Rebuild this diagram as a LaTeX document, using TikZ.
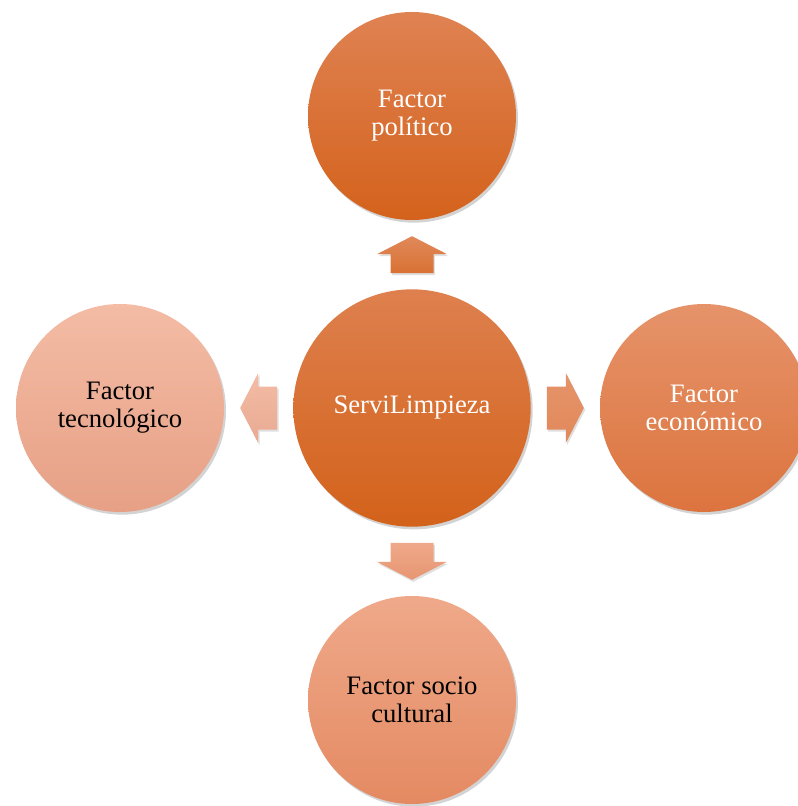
\documentclass[tikz,border=0pt]{standalone}
\usepackage{fontspec}
\setmainfont{Liberation Serif}
\usepackage{tikz}
\usetikzlibrary{calc,positioning,shadows}
\newdimen\cdim
\newdimen\hubdim
\newdimen\odim
\cdim=156pt
\hubdim=178pt
\odim=219pt
\definecolor{politicotop}{HTML}{DF8252}
\definecolor{politicobot}{HTML}{D4621C}
\definecolor{servitop}{HTML}{DE804E}
\definecolor{servibot}{HTML}{D3621A}
\definecolor{economicotop}{HTML}{E6936A}
\definecolor{economicobot}{HTML}{DC743E}
\definecolor{sociotop}{HTML}{EFA98A}
\definecolor{sociobot}{HTML}{E48A62}
\definecolor{tecnotop}{HTML}{F4BCA5}
\definecolor{tecnobot}{HTML}{E6A085}
\tikzstyle{circ}=[
  circle,
  inner sep=0pt,
  outer sep=0pt,
  align=center,
  font={\fontsize{20}{21}\selectfont},
  drop shadow={opacity=.35, shadow xshift=1.5pt, shadow yshift=-2pt},
]
\tikzstyle{factor}=[
  circ,
  minimum size=\cdim,
]
\tikzstyle{hub}=[
  circ,
  minimum size=\hubdim,
  text=white,
  top color=servitop,
  bottom color=servibot,
]
\tikzstyle{blockarrow}=[
  drop shadow={opacity=.25, shadow xshift=1pt, shadow yshift=-1.5pt},
]
\tikzset{
  node distance=\odim,
}
\begin{document}
\begin{tikzpicture}[x=.75pt,y=-.75pt]
  \useasboundingbox (0,0) rectangle (798,806);
  \node (servi) [hub] at (412,408) {ServiLimpieza};
  %%
  \node (politico) [factor, text=white, top color=politicotop,
    bottom color=politicobot, above of=servi] {Factor\\político};
  \node (economico) [factor, text=white, top color=economicotop,
    bottom color=economicobot, right of=servi] {Factor\\económico};
  \node (socio) [factor, top color=sociotop,
    bottom color=sociobot, below of=servi] {Factor socio\\cultural};
  \node (tecnologico) [factor, top color=tecnotop,
    bottom color=tecnobot, left of=servi] {Factor\\tecnológico};
  %%
  \coordinate (up) at ($(servi.north)!.5!(politico.south)$);
  \coordinate (right) at ($(servi.east)!.5!(economico.west)$);
  \coordinate (down) at ($(servi.south)!.5!(socio.north)$);
  \coordinate (left) at ($(servi.west)!.5!(tecnologico.east)$);
  %%
  \path [blockarrow, top color=politicotop!95!white, bottom color=politicobot!90!white]
    ($(up)+(-21.5,18.5)$) -- ++(0,-19) -- ++(-13.5,0) -- ++(35,-18)
    -- ++(35,18) -- ++(-13.5,0) -- ++(0,19) -- cycle;
  \path [blockarrow, top color=economicotop, bottom color=economicobot!85!white]
    ($(right)+(-18.5,-21.5)$) -- ++(19,0) -- ++(0,-13.5) -- ++(18,35)
    -- ++(-18,35) -- ++(0,-13.5) -- ++(-19,0) -- cycle;
  \path [blockarrow, top color=sociotop, bottom color=sociobot!90!white]
    ($(down)+(-21.5,-18.5)$) -- ++(0,19) -- ++(-13.5,0) -- ++(35,18)
    -- ++(35,-18) -- ++(-13.5,0) -- ++(0,-19) -- cycle;
  \path [blockarrow, top color=tecnotop, bottom color=tecnobot!90!white]
    ($(left)+(18.5,-21.5)$) -- ++(-19,0) -- ++(0,-13.5) -- ++(-18,35)
    -- ++(18,35) -- ++(0,-13.5) -- ++(19,0) -- cycle;
\end{tikzpicture}
\end{document}
